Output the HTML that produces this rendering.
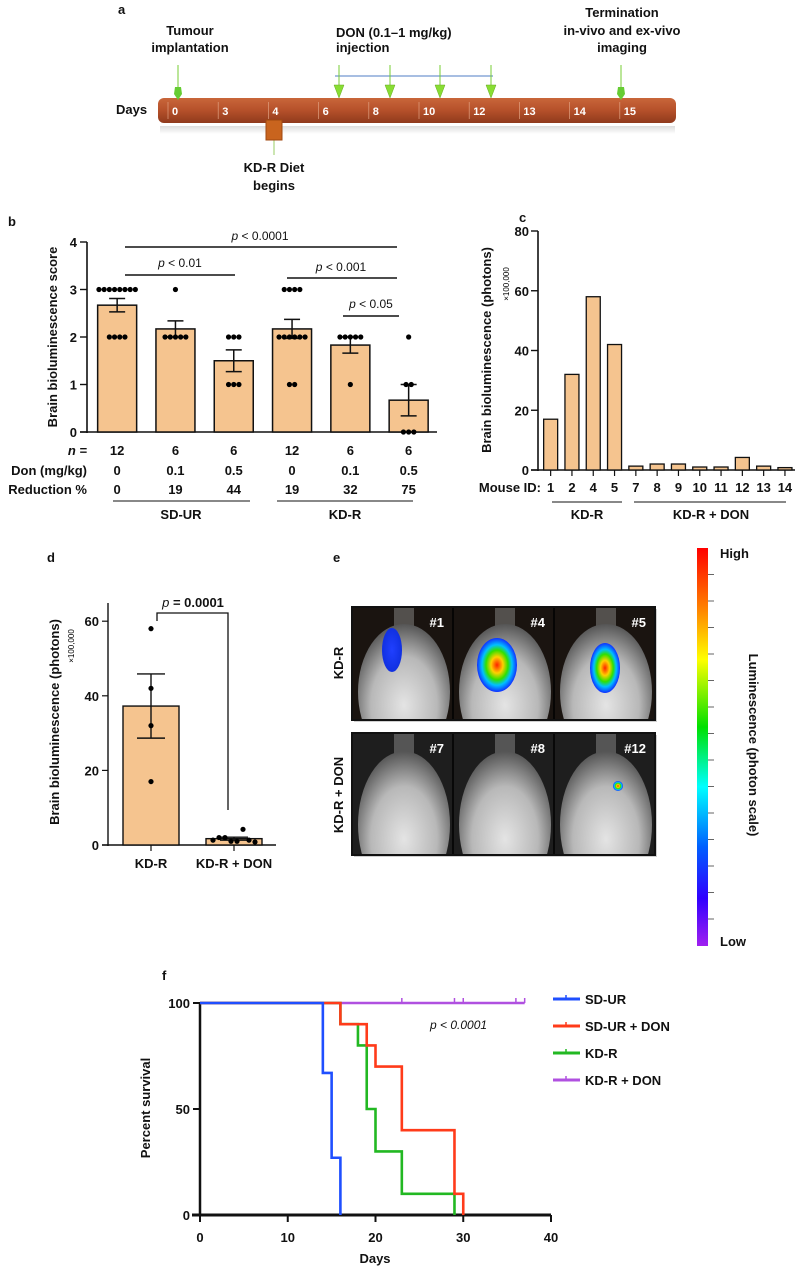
<!DOCTYPE html>
<html><head><meta charset="utf-8"><style>
html,body{margin:0;padding:0;background:#fff}
svg{display:block;font-family:"Liberation Sans",sans-serif}
.t{font-weight:bold;font-size:13px;fill:#111}
.s{font-size:12px;fill:#111}
</style></head><body>
<svg id="fig" width="797" height="1266" viewBox="0 0 797 1266" xmlns="http://www.w3.org/2000/svg">
<defs>
<linearGradient id="bar" x1="0" y1="0" x2="0" y2="1"><stop offset="0" stop-color="#c9663a"/><stop offset="0.5" stop-color="#b5502a"/><stop offset="1" stop-color="#8f3a1c"/></linearGradient>
<linearGradient id="shadow" x1="0" y1="0" x2="0" y2="1"><stop offset="0" stop-color="#ddd"/><stop offset="1" stop-color="#fff"/></linearGradient>
<linearGradient id="cbar" x1="0" y1="0" x2="0" y2="1"><stop offset="0" stop-color="#ff0000"/><stop offset="0.15" stop-color="#ff8000"/><stop offset="0.28" stop-color="#ffff00"/><stop offset="0.45" stop-color="#00e000"/><stop offset="0.6" stop-color="#00ffff"/><stop offset="0.75" stop-color="#0060ff"/><stop offset="0.88" stop-color="#3000ff"/><stop offset="1" stop-color="#a020f0"/></linearGradient>
<radialGradient id="blobHot"><stop offset="0" stop-color="#ff2000"/><stop offset="0.3" stop-color="#ffd000"/><stop offset="0.55" stop-color="#30e000"/><stop offset="0.75" stop-color="#00c0ff"/><stop offset="1" stop-color="#1030ff"/></radialGradient>
<radialGradient id="blobCold"><stop offset="0" stop-color="#2040ff"/><stop offset="1" stop-color="#1030e0"/></radialGradient>
<radialGradient id="mouse" cx="0.5" cy="0.6" r="0.6"><stop offset="0" stop-color="#e4e4e4"/><stop offset="0.6" stop-color="#b8b8b8"/><stop offset="1" stop-color="#555"/></radialGradient>
<clipPath id="clip0"><rect x="352" y="607" width="303" height="113"/></clipPath>
<clipPath id="clip1"><rect x="352" y="733" width="303" height="122"/></clipPath>
</defs>

<!-- Panel a -->
<g>
<text x="118" y="14" class="t" font-size="15">a</text>
<text x="190" y="35" class="t" text-anchor="middle">Tumour</text>
<text x="190" y="52" class="t" text-anchor="middle">implantation</text>
<text x="336" y="37" class="t">DON (0.1–1 mg/kg)</text>
<text x="336" y="52" class="t">injection</text>
<text x="622" y="17" class="t" text-anchor="middle">Termination</text>
<text x="622" y="35" class="t" text-anchor="middle">in-vivo and ex-vivo</text>
<text x="622" y="52" class="t" text-anchor="middle">imaging</text>
<rect x="160" y="126" width="515" height="8" fill="url(#shadow)"/>
<rect x="158" y="98" width="518" height="25" rx="6" fill="url(#bar)"/>
<text x="116" y="114" class="t">Days</text>
<g id="dayTicks"></g>
<line x1="335" y1="76" x2="493" y2="76" stroke="#8aa8d8" stroke-width="1.5"/>
<g id="arrows"></g>
<line x1="274" y1="138" x2="274" y2="155" stroke="#9c6" stroke-width="1"/>
<rect x="266" y="120" width="16" height="20" fill="#c9641e" stroke="#a04810"/>
<text x="274" y="172" class="t" text-anchor="middle">KD-R Diet</text>
<text x="274" y="190" class="t" text-anchor="middle">begins</text>
</g>

<!-- Panel b -->
<g id="pb">
<text x="8" y="226" class="t" font-size="16">b</text>
<text transform="translate(57,337) rotate(-90)" class="t" text-anchor="middle">Brain bioluminescence score</text>
</g>

<!-- Panel c -->
<g id="pc">
<text x="519" y="222" class="t" font-size="16">c</text>
<text transform="translate(491,350) rotate(-90)" class="t" text-anchor="middle">Brain bioluminescence (photons)</text>
<text transform="translate(509,284) rotate(-90)" font-size="8" text-anchor="middle">×100,000</text>
</g>

<!-- Panel d -->
<g id="pd">
<text x="47" y="562" class="t" font-size="16">d</text>
<text transform="translate(59,722) rotate(-90)" class="t" text-anchor="middle">Brain bioluminescence (photons)</text>
<text transform="translate(74,646) rotate(-90)" font-size="8" text-anchor="middle">×100,000</text>
</g>

<!-- Panel e -->
<g id="pe">
<text x="333" y="562" class="t" font-size="16">e</text>
<text transform="translate(343,663) rotate(-90)" class="t" text-anchor="middle">KD-R</text>
<text transform="translate(343,795) rotate(-90)" class="t" text-anchor="middle">KD-R + DON</text>
<rect x="697" y="548" width="11" height="398" fill="url(#cbar)"/>
<g id="cbticks"></g>
<text x="720" y="558" class="t" font-size="14">High</text>
<text x="720" y="946" class="t" font-size="14">Low</text>
<text transform="translate(749,745) rotate(90)" class="t" text-anchor="middle">Luminescence (photon scale)</text>
</g>

<!-- Panel f -->
<g id="pf">
<text x="162" y="980" class="t" font-size="16">f</text>
<text transform="translate(150,1108) rotate(-90)" class="t" text-anchor="middle">Percent survival</text>
<text x="375" y="1263" class="t" text-anchor="middle">Days</text>
<text x="430" y="1029" class="s" font-style="italic">p &lt; 0.0001</text>
</g>
</svg>
<script>
// ---------- data ----------
const dayLabels = ["0","3","4","6","8","10","12","13","14","15"];
const bCats = ["12","6","6","12","6","6"];
const bDon = ["0","0.1","0.5","0","0.1","0.5"];
const bRed = ["0","19","44","19","32","75"];
const bMeans = [2.67,2.17,1.5,2.17,1.83,0.67];
const bSem = [0.14,0.17,0.23,0.2,0.17,0.33];
const bDots = [[3,3,3,3,3,3,3,3,2,2,2,2],[3,2,2,2,2,2],[2,2,2,1,1,1],[3,3,3,3,2,2,2,2,2,2,1,1],[2,2,2,2,2,1],[2,1,1,0,0,0]];
const bTicks = [0,1,2,3,4];
const cIds = ["1","2","4","5","7","8","9","10","11","12","13","14"];
const cVals = [17,32,58,42,1.3,2,2,1,1,4.2,1.3,0.8];
const cTicks = [0,20,40,60,80];
const dCats = ["KD-R","KD-R + DON"];
const dPts = [[17,32,42,58],[1.3,2,2,1,1,4.2,1.3,0.8]];
const dMeans = [37.25,1.7];
const dSem = [8.6,0.4];
const dTicks = [0,20,40,60];
const fTicksX = [0,10,20,30,40];
const fTicksY = [0,50,100];
const sdurT = [0,14,15,16];
const sdurS = [100,67,27,0];
const sdurDonT = [0,16,19,20,23,29,30];
const sdurDonS = [100,90,80,70,40,10,0];
const kdrT = [0,16,18,19,20,23,29];
const kdrS = [100,90,80,50,30,10,0];
const kdrDonT = [0,37];
const kdrDonS = [100,100];
const kdrDonCensor = [23,29,30,36,37];
const fNames = ["SD-UR","SD-UR + DON","KD-R","KD-R + DON"];

const NS="http://www.w3.org/2000/svg";
function mk(parent,tag,attrs,text){const e=document.createElementNS(NS,tag);for(const k in attrs)e.setAttribute(k,attrs[k]);if(text!==undefined)e.textContent=text;parent.appendChild(e);return e;}

// ---------- panel a ----------
const dt=document.getElementById('dayTicks');
const dayX = i => 172 + i*50.2;
dayLabels.forEach((d,i)=>{
 const l=mk(dt,'line',{x1:dayX(i)-4,y1:102,x2:dayX(i)-4,y2:119,stroke:'#e0a080','stroke-width':0.7});
 
 
 const t=mk(dt,'text',{x:dayX(i),y:115,fill:'#fff','font-weight':'bold','font-size':11},d);
 
 
});
const ar=document.getElementById('arrows');
[178,621].forEach(x=>{
 const l=mk(ar,'line',{x1:x,y1:65,x2:x,y2:92,stroke:'#7c3',"stroke-width":1});
 
 
 const p=mk(ar,'path',{d:`M${x-3},87 L${x+3},87 L${x+4},94 L${x},100 L${x-4},94 Z`,fill:'#6c3'});
 
 
});
[340,391,441,492].forEach(x=>{
 const l=mk(ar,'line',{x1:x-1,y1:65,x2:x-1,y2:86,stroke:'#7c3',"stroke-width":1});
 
 
 const p=mk(ar,'path',{d:`M${x-6},85 L${x+4},85 L${x-1},98 Z`,fill:'#8d3',stroke:'#6a2','stroke-width':0.5});
 
 
});

// ---------- panel b ----------
const pb=document.getElementById('pb');
const yB=v=>432-47.5*v, xB=i=>88+(i+0.5)*58.3;
mk(pb,'line',{x1:87,y1:242,x2:87,y2:433,stroke:'#111','stroke-width':1.6});
mk(pb,'line',{x1:80,y1:432,x2:437,y2:432,stroke:'#111','stroke-width':1.6});
bTicks.forEach(t=>{
 mk(pb,'line',{x1:80,y1:yB(t),x2:87,y2:yB(t),stroke:'#111','stroke-width':1.4});
 const e=mk(pb,'text',{x:77,y:yB(t)+5,'text-anchor':'end',class:'t','font-size':14},t);
 
 
});
bMeans.forEach((m,i)=>{
 const x=xB(i);
 const r=mk(pb,'rect',{x:x-19.5,y:yB(m),width:39,height:432-yB(m),fill:'#f5c48f',stroke:'#111','stroke-width':1.5});
 
 
 const s=bSem[i];
 mk(pb,'path',{d:`M${x},${yB(m+s)} V${yB(m-s)} M${x-8},${yB(m+s)} H${x+8} M${x-8},${yB(m-s)} H${x+8}`,stroke:'#111','stroke-width':1.5,fill:'none'});
 const groups={};bDots[i].forEach(v=>groups[v]=(groups[v]||0)+1);
 Object.keys(groups).forEach(v=>{const n=groups[v];for(let k=0;k<n;k++){
   const c=mk(pb,'circle',{cx:x+(k-(n-1)/2)*5.2,cy:yB(+v),r:2.6,fill:'#000'});
   
   
 }});
 const a=mk(pb,'text',{x:x,y:455,'text-anchor':'middle',class:'t','font-size':14},bCats[i]);
 
 
 const b=mk(pb,'text',{x:x,y:475,'text-anchor':'middle',class:'t','font-size':14},bDon[i]);
 
 
 const c=mk(pb,'text',{x:x,y:494,'text-anchor':'middle',class:'t','font-size':14},bRed[i]);
 
 
});
[["n =",455,true],["Don (mg/kg)",475,false],["Reduction %",494,false]].forEach(r=>{
 const e=mk(pb,'text',{x:87,y:r[1],'text-anchor':'end',class:'t','font-size':14,'font-style':r[2]?'italic':'normal'},r[0]);
 
 
});
[[113,250,'SD-UR',181],[277,413,'KD-R',345]].forEach(g=>{
 mk(pb,'line',{x1:g[0],y1:501,x2:g[1],y2:501,stroke:'#111','stroke-width':1});
 const e=mk(pb,'text',{x:g[3],y:519,'text-anchor':'middle',class:'t','font-size':14},g[2]);
 
 
});
[[125,397,247,'p < 0.0001',260,240],[125,235,275,'p < 0.01',180,267],[287,397,278,'p < 0.001',341,271],[343,399,316,'p < 0.05',371,308]].forEach(s=>{
 mk(pb,'line',{x1:s[0],y1:s[2],x2:s[1],y2:s[2],stroke:'#111','stroke-width':1.5});
 const e=mk(pb,'text',{x:s[4],y:s[5],'text-anchor':'middle',class:'s'},'');
 mk(e,'tspan',{'font-style':'italic'},'p');
 mk(e,'tspan',{},s[3].slice(1));
 
 
});

// ---------- panel c ----------
const pc=document.getElementById('pc');
const yC=v=>470-v*239/80, xC=i=>540+(i+0.5)*21.3;
mk(pc,'line',{x1:538,y1:231,x2:538,y2:471,stroke:'#111','stroke-width':1.6});
mk(pc,'line',{x1:531,y1:470,x2:795,y2:470,stroke:'#111','stroke-width':1.6});
cTicks.forEach(t=>{
 mk(pc,'line',{x1:531,y1:yC(t),x2:538,y2:yC(t),stroke:'#111','stroke-width':1.4});
 const e=mk(pc,'text',{x:529,y:yC(t)+5,'text-anchor':'end',class:'t','font-size':14},t);
 
 
});
cVals.forEach((v,i)=>{
 const x=xC(i);
 const r=mk(pc,'rect',{x:x-7,y:yC(v),width:14,height:470-yC(v),fill:'#f5c48f',stroke:'#111','stroke-width':1.3});
 
 
 mk(pc,'line',{x1:x,y1:470,x2:x,y2:476,stroke:'#111','stroke-width':1.2});
 const e=mk(pc,'text',{x:x,y:492,'text-anchor':'middle',class:'t','font-size':14},cIds[i]);
 
 
});
{const e=mk(pc,'text',{x:541,y:492,'text-anchor':'end',class:'t','font-size':14},'Mouse ID:');
 
 }
[[552,622,'KD-R',587],[634,786,'KD-R + DON',711]].forEach(g=>{
 mk(pc,'line',{x1:g[0],y1:502,x2:g[1],y2:502,stroke:'#111','stroke-width':1});
 const e=mk(pc,'text',{x:g[3],y:519,'text-anchor':'middle',class:'t','font-size':14},g[2]);
 
 
});

// ---------- panel d ----------
const pd=document.getElementById('pd');
const yD=v=>845-3.73*v, xD=i=>151+i*83;
mk(pd,'line',{x1:108,y1:603,x2:108,y2:846,stroke:'#111','stroke-width':1.4});
mk(pd,'line',{x1:102,y1:845,x2:276,y2:845,stroke:'#111','stroke-width':1.4});
dTicks.forEach(t=>{
 mk(pd,'line',{x1:102,y1:yD(t),x2:108,y2:yD(t),stroke:'#111','stroke-width':1.2});
 const e=mk(pd,'text',{x:99,y:yD(t)+5,'text-anchor':'end',class:'t','font-size':14},t);
 
 
});
dMeans.forEach((m,i)=>{
 const x=xD(i);
 const r=mk(pd,'rect',{x:x-28,y:yD(m),width:56,height:845-yD(m),fill:'#f5c48f',stroke:'#111','stroke-width':1.4});
 
 
 const s=dSem[i];
 mk(pd,'path',{d:`M${x},${yD(m+s)} V${yD(m-s)} M${x-14},${yD(m+s)} H${x+14} M${x-14},${yD(m-s)} H${x+14}`,stroke:'#111','stroke-width':1.4,fill:'none'});
 const pts=dPts[i];
 pts.forEach((v,k)=>{
  const off=i===0?0:(k-(pts.length-1)/2)*6;
  const c=mk(pd,'circle',{cx:x+off,cy:yD(v),r:2.6,fill:'#000'});
  
  
 });
 mk(pd,'line',{x1:x,y1:845,x2:x,y2:851,stroke:'#111','stroke-width':1.2});
 const e=mk(pd,'text',{x:x,y:868,'text-anchor':'middle',class:'t','font-size':14},dCats[i]);
 
 
});
mk(pd,'path',{d:'M157,621 V613 H228 V810',stroke:'#111','stroke-width':1.3,fill:'none'});
{const e=mk(pd,'text',{x:193,y:607,'text-anchor':'middle',class:'t','font-size':12},'');
 mk(e,'tspan',{'font-style':'italic','font-weight':'normal'},'p');
 mk(e,'tspan',{},' = 0.0001');
 
 }

// ---------- panel e ----------
const pe=document.getElementById('pe');
const panels=[{y:607,h:113,bg:'#1a1410',labels:['#1','#4','#5'],blobs:[['blobCold',392,650,10,22],['blobHot',497,665,20,27],['blobHot',605,668,15,25]]},
              {y:733,h:122,bg:'#1e1e1e',labels:['#7','#8','#12'],blobs:[['blobHot',618,786,5,5]]}];
panels.forEach((p,pi)=>{
 mk(pe,'rect',{x:354,y:p.y+2,width:303,height:p.h,fill:'#888',opacity:0.4});
 mk(pe,'rect',{x:352,y:p.y,width:303,height:p.h,fill:p.bg});
 const g=mk(pe,'g',{'clip-path':'url(#clip'+pi+')'});
 for(let k=0;k<3;k++){
  const x0=352+k*101;
  mk(g,'rect',{x:x0+42,y:p.y,width:20,height:40,fill:'#999',opacity:0.45});
  const m=mk(g,'ellipse',{cx:x0+52,cy:p.y+p.h*0.75,rx:46,ry:p.h*0.6,fill:'url(#mouse)'});
  
  
  mk(g,'line',{x1:x0+101,y1:p.y,x2:x0+101,y2:p.y+p.h,stroke:'#000','stroke-width':1.5});
  const t=mk(g,'text',{x:x0+92,y:p.y+20,'text-anchor':'end',fill:'#fff','font-size':13,'font-weight':'bold'},p.labels[k]);
  
  
 }
 p.blobs.forEach(b=>{
  const e=mk(g,'ellipse',{cx:b[1],cy:b[2],rx:b[3],ry:b[4],fill:'url(#'+b[0]+')'});
  
  
 });
 mk(pe,'rect',{x:352,y:p.y,width:303,height:p.h,fill:'none',stroke:'#111','stroke-width':2});
});
const cbt=document.getElementById('cbticks');
for(let k=1;k<15;k++){mk(cbt,'line',{x1:708,y1:548+k*26.5,x2:714,y2:548+k*26.5,stroke:'#666','stroke-width':1});}

// ---------- panel f ----------
const pf=document.getElementById('pf');
const xF=d=>200+8.775*d, yF=p=>1215-2.12*p;
mk(pf,'line',{x1:200,y1:1002,x2:200,y2:1216,stroke:'#111','stroke-width':2.5});
mk(pf,'line',{x1:192,y1:1215,x2:551,y2:1215,stroke:'#111','stroke-width':3});
fTicksX.forEach(t=>{
 mk(pf,'line',{x1:xF(t),y1:1215,x2:xF(t),y2:1222,stroke:'#111','stroke-width':2});
 const e=mk(pf,'text',{x:xF(t),y:1242,'text-anchor':'middle',class:'t','font-size':14},t);
 
 
});
fTicksY.forEach(t=>{
 mk(pf,'line',{x1:193,y1:yF(t),x2:200,y2:yF(t),stroke:'#111','stroke-width':2});
 const e=mk(pf,'text',{x:190,y:yF(t)+5,'text-anchor':'end',class:'t','font-size':14},t);
 
 
});
function km(T,S,col,name){
 let d=`M${xF(T[0])},${yF(S[0])}`;
 for(let i=1;i<T.length;i++){d+=` H${xF(T[i])} V${yF(S[i])}`;}
 const p=mk(pf,'path',{d:d,stroke:col,'stroke-width':2.6,fill:'none'});
 
 
}
km(kdrDonT,kdrDonS,'#b050e0','survival-kdr-don');
kdrDonCensor.forEach(t=>{mk(pf,'line',{x1:xF(t),y1:yF(100)-5,x2:xF(t),y2:yF(100),stroke:'#b050e0','stroke-width':1.5});});
km(kdrT,kdrS,'#22b822','survival-kdr');
km(sdurDonT,sdurDonS,'#ff3b1a','survival-sdur-don');
km(sdurT,sdurS,'#1f4fff','survival-sdur');
const legCols=['#1f4fff','#ff3b1a','#22b822','#b050e0'];
fNames.forEach((n,i)=>{
 const y=999+i*27;
 const l=mk(pf,'line',{x1:553,y1:y,x2:580,y2:y,stroke:legCols[i],'stroke-width':3});
 
 
 mk(pf,'line',{x1:566,y1:y-4,x2:566,y2:y,stroke:legCols[i],'stroke-width':1.5});
 const e=mk(pf,'text',{x:585,y:y+5,class:'t','font-size':12},n);
 
 
});
</script>
</body></html>
